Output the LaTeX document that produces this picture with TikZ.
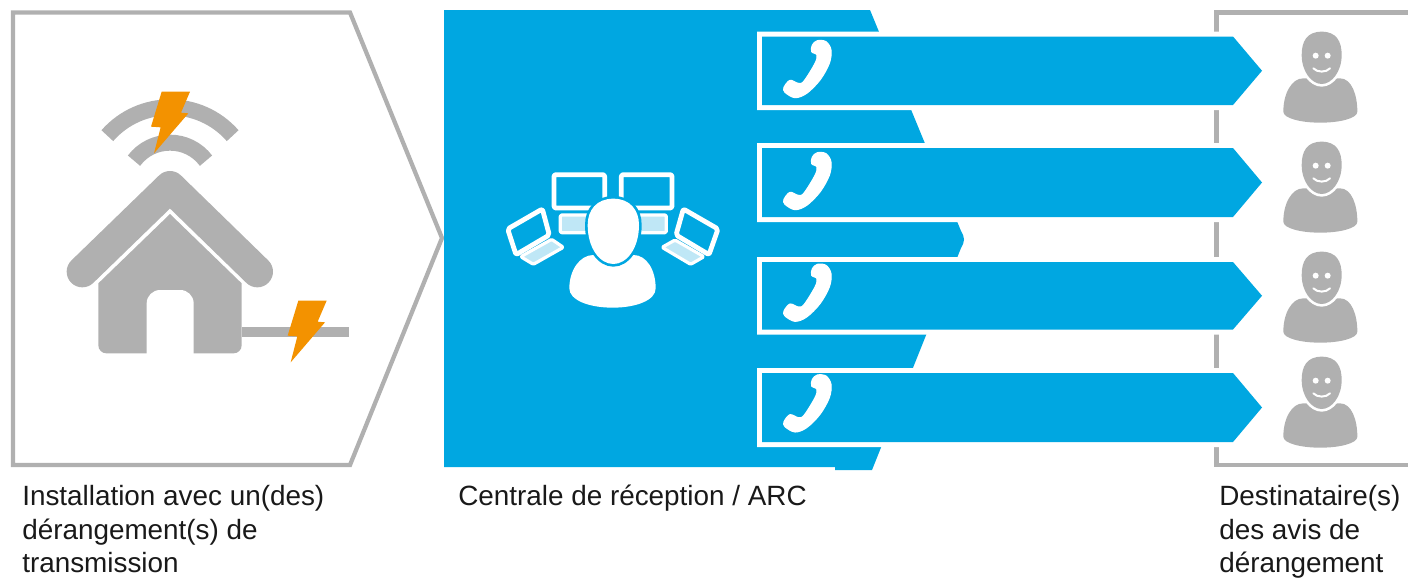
\documentclass[tikz,border=0pt]{standalone}
\usepackage{fontspec}
\setmainfont{Liberation Sans}
\definecolor{arcblue}{HTML}{00A7E1}
\definecolor{icongray}{HTML}{B0B0B0}
\definecolor{boltorange}{HTML}{F39200}
\definecolor{keypale}{HTML}{BFE7F6}
\tikzset{
  framegray/.style={draw=icongray,line width=3.2pt,line join=miter},
  caption/.style={anchor=north west,inner sep=0pt,align=left,font=\fontsize{20.9pt}{25.2pt}\selectfont,text=black!90},
  bolt/.pic={\fill[boltorange] (335,65)--(420,65)--(393,128)--(415,130)--(312,250)--(332,172)--(303,170)--cycle;},
  phoneicon/.pic={\path[fill=white,draw=white,line width=.8pt] plot[smooth cycle,tension=.55] coordinates {(232,122)(258,125)(273,150)(268,190)(240,240)(200,280)(165,293)(135,277)(132,262)(150,241)(175,250)(192,243)(225,190)(231,165)(215,155)(217,135)};},
  contact/.pic={
    \fill[icongray] (250,335) .. controls (250,280) and (275,235) .. (310,235) -- (420,235) .. controls (455,235) and (472,285) .. (472,335) .. controls (472,355) and (420,368) .. (361,368) .. controls (302,368) and (250,355) .. (250,335) -- cycle;
    \path[draw=white,line width=4pt] (365,95) .. controls (410,95) and (425,125) .. (425,165) .. controls (425,215) and (395,252) .. (365,252) .. controls (335,252) and (305,215) .. (305,165) .. controls (305,125) and (320,95) .. (365,95) -- cycle;
    \fill[icongray] (365,95) .. controls (410,95) and (425,125) .. (425,165) .. controls (425,215) and (395,252) .. (365,252) .. controls (335,252) and (305,215) .. (305,165) .. controls (305,125) and (320,95) .. (365,95) -- cycle;
    \fill[white] (347,167) circle[radius=9] (383,167) circle[radius=9];
    \draw[white,line width=1.5pt,line cap=round] (340,205) .. controls (352,218) and (378,218) .. (390,205);
  }
}
\newcommand{\arrowbar}[2]{%
  \path[fill=white,draw=white,line width=7.5pt,miter limit=2] (762,#1) -- (1233,#1) -- (1262,{(#1+#2)/2}) -- (1233,#2) -- (762,#2) -- cycle;
  \fill[arcblue] (762,#1) -- (1233,#1) -- (1262,{(#1+#2)/2}) -- (1233,#2) -- (762,#2) -- cycle;
}
\begin{document}
\begin{tikzpicture}[x=0.75pt,y=-0.75pt]
\useasboundingbox (0,0) rectangle (1408,578);
% frames
\draw[framegray] (13,12.5) -- (350,12.5) -- (442,238) -- (350,465) -- (13,465) -- cycle;
\draw[framegray] (1408,12.5) -- (1216.5,12.5) -- (1216.5,465) -- (1408,465);
% central blue shape
\fill[arcblue] (444,10) -- (870,10) -- (961,231) .. controls (965,238) and (965,241) .. (961,248) -- (872,470) -- (835,470) -- (835,467) -- (444,467) -- cycle;
% bars
\arrowbar{36.5}{105}
\arrowbar{148}{217}
\arrowbar{262}{329.5}
\arrowbar{373}{442}
% phones
\begin{scope}[x=0.25pt,y=-0.25pt]
\pic at (2220,0) {phoneicon};
\pic at (2220,336) {phoneicon};
\pic at (2220,671) {phoneicon};
\pic at (2220,1003) {phoneicon};
\end{scope}
% contacts
\begin{scope}[x=0.25pt,y=-0.25pt]
\pic at (3600,0) {contact};
\pic at (3600,330) {contact};
\pic at (3600,660) {contact};
\pic at (3600,975) {contact};
\end{scope}
% house
\begin{scope}[shift={(50,70)},x=0.25pt,y=-0.25pt]
\draw[icongray,line width=23.5pt,line cap=round,line join=round] (97,605) -- (360,350) -- (622,605);
\fill[icongray] (360,432) -- (575,640) [rounded corners=6pt] -- (575,850) -- (145,850) [sharp corners] -- (145,640) -- cycle;
\fill[white,rounded corners=10pt] (290,855) -- (290,660) -- (431,660) -- (431,855);
\fill[icongray] (575,771) rectangle (897,800);
\draw[icongray,line width=12pt] (172,197) .. controls (271.6,83.5) and (448.4,83.5) .. (548,197);
\draw[icongray,line width=12pt] (252,272) .. controls (306,200) and (414,200) .. (468,272);
\pic at (0,0) {bolt};
\pic at (410,627) {bolt};
\end{scope}
% operator with screens
\begin{scope}[shift={(490,160)},x=0.25pt,y=-0.25pt]
\tikzset{screenline/.style={draw=white,line width=3.6pt,line join=round,rounded corners=1.5pt}}
\tikzset{keyline/.style={draw=white,fill=keypale,line width=2.4pt,line join=round,rounded corners=1pt}}
\draw[screenline] (192,44) rectangle (344,144);
\draw[screenline] (394,44) rectangle (546,144);
\draw[keyline] (211,165) rectangle (330,218);
\draw[keyline] (410,165) rectangle (529,218);
\draw[screenline] (53,207) -- (157,147) -- (178,225) -- (78,284) -- cycle;
\draw[keyline] (92,290) -- (185,238) -- (220,262) -- (130,313) -- cycle;
\draw[screenline] (580,147) -- (684,207) -- (657,284) -- (558,225) -- cycle;
\draw[keyline] (516,262) -- (555,240) -- (642,290) -- (602,313) -- cycle;
\fill[white] (238,385) .. controls (238,330) and (270,285) .. (310,285) -- (430,285) .. controls (470,285) and (497,330) .. (497,385) .. controls (497,420) and (440,443) .. (368,443) .. controls (296,443) and (238,420) .. (238,385) -- cycle;
\path[draw=arcblue,line width=4pt] (370,116) .. controls (420,116) and (447,150) .. (447,195) .. controls (447,265) and (410,312) .. (370,312) .. controls (330,312) and (293,265) .. (293,195) .. controls (293,150) and (320,116) .. (370,116) -- cycle;
\fill[white] (370,116) .. controls (420,116) and (447,150) .. (447,195) .. controls (447,265) and (410,312) .. (370,312) .. controls (330,312) and (293,265) .. (293,195) .. controls (293,150) and (320,116) .. (370,116) -- cycle;
\end{scope}
% captions
\node[caption] (capa) at (22,485) {Installation avec un(des)\\dérangement(s) de\\transmission};
\node[caption] (capb) at (458,485) {Centrale de réception / ARC};
\node[caption] (capc) at (1219,485) {Destinataire(s)\\des avis de\\dérangement};
\end{tikzpicture}
\end{document}
